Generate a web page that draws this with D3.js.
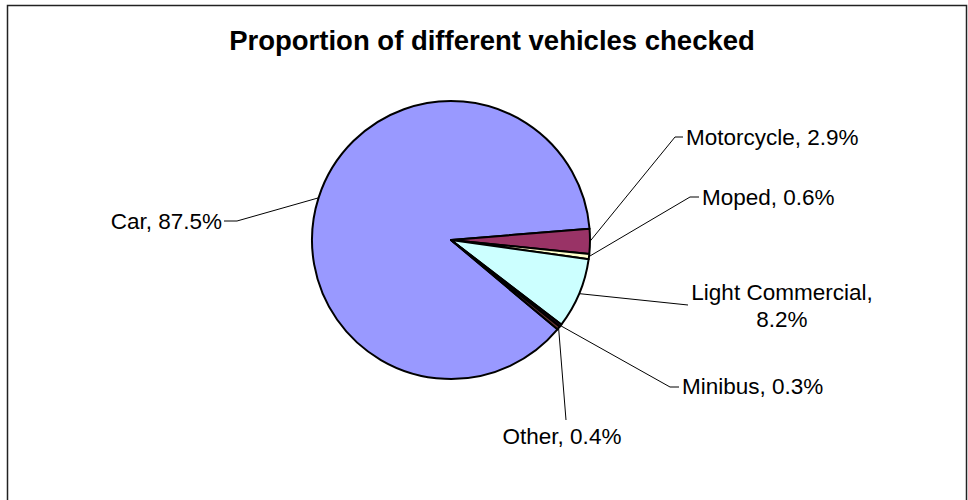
<!DOCTYPE html>
<html>
<head>
<meta charset="utf-8">
<script src="https://cdn.jsdelivr.net/npm/d3@7"></script>
<style>
  body { margin: 0; background: #fff; }
  text { font-family: Arial, "Liberation Sans", sans-serif; fill: #000; }
</style>
</head>
<body>
<svg id="chart" width="968" height="500"></svg>
<script>
// Data
var categories = ["Car", "Motorcycle", "Moped", "Light Commercial", "Minibus", "Other"];
var shares = [87.5, 2.9, 0.6, 8.2, 0.3, 0.4];
var sliceColours = ["#9999ff", "#993366", "#ffffcc", "#ccffff", "#330033", "#663333"];

// Where each label sits and where its leader line bends (layout only)
var labelLayout = [
    { x: 222, y: 229, anchor: "end", elbow: [237, 221] },
    { x: 686, y: 145, anchor: "start", elbow: [675, 137] },
    { x: 702, y: 205, anchor: "start", elbow: [690, 197] },
    { x: 782, y: 300, anchor: "middle", elbow: [688, 305], wrap: true },
    { x: 682, y: 394, anchor: "start", elbow: [670, 387] },
    { x: 562, y: 444, anchor: "middle", elbow: [566, 420] }
];

var width = 968, height = 500;
var cx = 451, cy = 240, radius = 139;

var svg = d3.select("#chart");

// Outer frame
svg.append("rect")
    .attr("x", 7.5).attr("y", 5.5)
    .attr("width", 959).attr("height", 520)
    .attr("fill", "none")
    .attr("stroke", "#222")
    .attr("stroke-width", 1.5);

// Title
svg.append("text")
    .attr("x", 492).attr("y", 50)
    .attr("text-anchor", "middle")
    .style("font-size", "27.5px")
    .style("font-weight", "bold")
    .text("Proportion of different vehicles checked");

var rows = categories.map(function (c, i) {
    return { name: c, value: shares[i], colour: sliceColours[i], layout: labelLayout[i] };
});

// Excel puts the car slice so that it ends just above 3 o'clock
var start = 130 * Math.PI / 180;
var pie = d3.pie().sort(null).value(function (d) { return d.value; })
    .startAngle(start).endAngle(start + 2 * Math.PI);
var arcs = pie(rows);

var arc = d3.arc().innerRadius(0).outerRadius(radius);

var g = svg.append("g").attr("transform", "translate(" + cx + "," + cy + ")");

g.selectAll("path")
    .data(arcs)
    .enter()
    .append("path")
    .attr("d", arc)
    .attr("fill", function (d) { return d.data.colour; })
    .attr("stroke", "#000")
    .attr("stroke-width", 2)
    .attr("stroke-linejoin", "round");

// Leader lines: from the slice's outer mid point to the elbow, then a short tick to the text
function edgePoint(d) {
    var a = (d.startAngle + d.endAngle) / 2;
    return [cx + radius * Math.sin(a), cy - radius * Math.cos(a)];
}

arcs.forEach(function (d) {
    var L = d.data.layout;
    var p = edgePoint(d);
    var pts = [p, L.elbow];
    if (L.anchor === "start") pts.push([L.x - 3, L.elbow[1]]);
    if (L.anchor === "end") pts.push([L.x + 2, L.elbow[1]]);
    svg.append("path")
        .attr("d", d3.line()(pts))
        .attr("fill", "none")
        .attr("stroke", "#000")
        .attr("stroke-width", 1);

    var label = d.data.name + ", " + d.data.value.toFixed(1) + "%";
    var t = svg.append("text")
        .attr("x", L.x).attr("y", L.y)
        .attr("text-anchor", L.anchor)
        .style("font-size", "22.5px");
    if (L.wrap) {
        t.append("tspan").attr("x", L.x).text(d.data.name + ",");
        t.append("tspan").attr("x", L.x).attr("dy", 27).text(d.data.value.toFixed(1) + "%");
    } else {
        t.text(label);
    }
});
</script>
</body>
</html>
